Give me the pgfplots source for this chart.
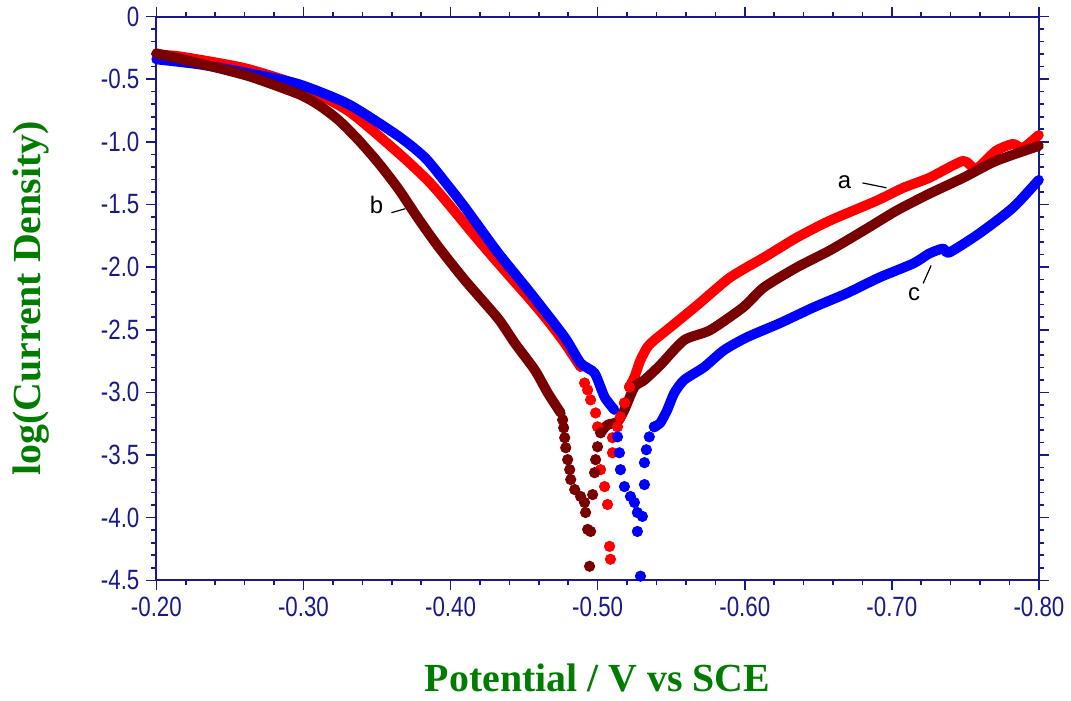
\documentclass[border=0pt]{standalone}
\usepackage{fontspec}
\setmainfont{Liberation Serif}
\newfontfamily\tickfont[FakeStretch=0.8]{Liberation Sans}
\newfontfamily\annfont{Liberation Sans}
\usepackage{pgfplots}
\pgfplotsset{compat=1.18}
\definecolor{navyax}{RGB}{25,25,140}
\definecolor{lblgreen}{RGB}{0,125,0}
\definecolor{cred}{RGB}{255,0,0}
\definecolor{cblue}{RGB}{0,0,255}
\definecolor{cbrown}{RGB}{120,0,0}
\begin{document}
\begin{tikzpicture}
\begin{axis}[
  scale only axis, width=443pt, height=283pt,
  xmin=-0.8, xmax=-0.2, ymin=-4.5, ymax=0,
  x dir=reverse, clip=false,
  axis line style={navyax, line width=1pt},
  tick align=outside, tick pos=both,
  major tick length=5pt, minor tick length=2.5pt,
  every tick/.style={navyax, line width=0.8pt},
  xtick={-0.2,-0.3,-0.4,-0.5,-0.6,-0.7,-0.8},
  xticklabels={-0.20,-0.30,-0.40,-0.50,-0.60,-0.70,-0.80},
  ytick={0,-0.5,-1,-1.5,-2,-2.5,-3,-3.5,-4,-4.5},
  yticklabels={0,-0.5,-1.0,-1.5,-2.0,-2.5,-3.0,-3.5,-4.0,-4.5},
  minor x tick num=4, minor y tick num=4,
  ticklabel style={font=\tickfont\fontsize{14}{14}\selectfont, text=navyax},
  xlabel={Potential / V vs SCE}, ylabel={log(Current Density)},
  label style={font=\fontsize{20}{20}\selectfont\bfseries, text=lblgreen},
  xlabel style={at={(rel axis cs:0.5,0)}, anchor=base, yshift=-56pt},
  ylabel style={at={(rel axis cs:0,0.5)}, anchor=center, yshift=63pt},
  lin/.style={line width=5pt, line join=round, line cap=round, smooth, tension=0.4},
  dots/.style={only marks, mark=*, mark size=2.6pt},
]
% a (red)
\addplot[cred, lin] coordinates {
(-0.2000,-0.302) (-0.2156,-0.318) (-0.2427,-0.372) (-0.2630,-0.421) (-0.2968,-0.548)
(-0.3306,-0.755) (-0.3645,-1.089) (-0.3848,-1.312) (-0.3984,-1.494) (-0.4153,-1.735)
(-0.4322,-1.967) (-0.4546,-2.266) (-0.4661,-2.428) (-0.4776,-2.607) (-0.4884,-2.798)};
\addplot[cred, dots] coordinates {
(-0.4911,-2.925) (-0.4932,-2.981) (-0.4952,-3.060) (-0.4986,-3.164) (-0.4999,-3.275)
(-0.5020,-3.617) (-0.5047,-3.752) (-0.5067,-3.895) (-0.5081,-4.229) (-0.5087,-4.332)
(-0.5101,-3.482) (-0.5101,-3.362) (-0.5135,-3.275) (-0.5155,-3.196) (-0.5182,-3.084)
(-0.5216,-2.957)};
\addplot[cred, lin] coordinates {
(-0.5216,-2.957) (-0.5250,-2.878) (-0.5291,-2.742) (-0.5338,-2.639) (-0.5385,-2.583)
(-0.5494,-2.480) (-0.5676,-2.305) (-0.5900,-2.083) (-0.6130,-1.924) (-0.6353,-1.765)
(-0.6577,-1.630) (-0.6895,-1.471) (-0.7078,-1.367) (-0.7254,-1.288) (-0.7484,-1.153)
(-0.7572,-1.216) (-0.7707,-1.073) (-0.7823,-1.017) (-0.7890,-1.049) (-0.7999,-0.946)};
% c (blue)
\addplot[cblue, lin] coordinates {
(-0.2000,-0.342) (-0.2291,-0.382) (-0.2630,-0.453) (-0.2968,-0.540) (-0.3306,-0.700)
(-0.3645,-0.954) (-0.3828,-1.129) (-0.3984,-1.352) (-0.4099,-1.526) (-0.4322,-1.884)
(-0.4546,-2.210) (-0.4776,-2.560) (-0.4884,-2.766) (-0.4979,-2.846) (-0.5047,-3.037)
(-0.5114,-3.140)};
\addplot[cblue, dots] coordinates {
(-0.5135,-3.355) (-0.5148,-3.482) (-0.5155,-3.617) (-0.5182,-3.752) (-0.5223,-3.831)
(-0.5250,-3.879) (-0.5270,-3.959) (-0.5304,-3.990) (-0.5270,-4.110) (-0.5291,-4.467)
(-0.5318,-3.736) (-0.5318,-3.561) (-0.5331,-3.458) (-0.5351,-3.355) (-0.5385,-3.275)};
\addplot[cblue, lin] coordinates {
(-0.5385,-3.275) (-0.5426,-3.243) (-0.5473,-3.140) (-0.5521,-3.005) (-0.5588,-2.901)
(-0.5724,-2.798) (-0.5859,-2.663) (-0.6015,-2.560) (-0.6238,-2.448) (-0.6469,-2.321)
(-0.6692,-2.210) (-0.6915,-2.083) (-0.7146,-1.971) (-0.7254,-1.892) (-0.7349,-1.852)
(-0.7389,-1.884) (-0.7593,-1.733) (-0.7823,-1.526) (-0.7999,-1.304)};
% b (brown)
\addplot[cbrown, lin] coordinates {
(-0.2000,-0.294) (-0.2291,-0.374) (-0.2630,-0.477) (-0.2968,-0.620) (-0.3104,-0.707)
(-0.3239,-0.827) (-0.3374,-0.986) (-0.3510,-1.169) (-0.3645,-1.375) (-0.3781,-1.614)
(-0.3916,-1.836) (-0.4099,-2.107) (-0.4322,-2.409) (-0.4437,-2.607) (-0.4573,-2.822)
(-0.4661,-3.005) (-0.4749,-3.164)};
\addplot[cbrown, dots] coordinates {
(-0.4762,-3.219) (-0.4769,-3.283) (-0.4776,-3.362) (-0.4783,-3.442) (-0.4796,-3.537)
(-0.4810,-3.617) (-0.4817,-3.696) (-0.4844,-3.776) (-0.4884,-3.831) (-0.4911,-3.879)
(-0.4918,-3.959) (-0.4932,-4.094) (-0.4952,-4.110) (-0.4945,-4.388) (-0.4966,-3.816)
(-0.4979,-3.641) (-0.4986,-3.537) (-0.4999,-3.434) (-0.5020,-3.323)};
\addplot[cbrown, lin] coordinates {
(-0.5020,-3.323) (-0.5067,-3.259) (-0.5135,-3.235) (-0.5182,-3.140) (-0.5250,-2.957)
(-0.5318,-2.901) (-0.5426,-2.782) (-0.5588,-2.583) (-0.5764,-2.504) (-0.5989,-2.321)
(-0.6130,-2.162) (-0.6353,-2.003) (-0.6577,-1.868) (-0.6807,-1.709) (-0.7031,-1.550)
(-0.7254,-1.415) (-0.7484,-1.288) (-0.7708,-1.153) (-0.7999,-1.033)};
% annotations
\node[font=\annfont\fontsize{12}{12}\selectfont] at (axis cs:-0.6678,-1.320) {a};
\draw[black, line width=0.6pt] (axis cs:-0.680,-1.328) -- (axis cs:-0.6963,-1.367);
\node[font=\annfont\fontsize{12}{12}\selectfont] at (axis cs:-0.3496,-1.502) {b};
\draw[black, line width=0.6pt] (axis cs:-0.3598,-1.566) -- (axis cs:-0.3693,-1.534);
\node[font=\annfont\fontsize{12}{12}\selectfont] at (axis cs:-0.7152,-2.218) {c};
\draw[black, line width=0.6pt] (axis cs:-0.7213,-2.130) -- (axis cs:-0.7267,-1.987);
\coordinate (BL) at (rel axis cs:0,0);
\coordinate (TR) at (rel axis cs:1,1);
\end{axis}
\path ([shift={(-78.5pt,-60.5pt)}]BL) rectangle ([shift={(14pt,7.5pt)}]TR);
\end{tikzpicture}
\end{document}
